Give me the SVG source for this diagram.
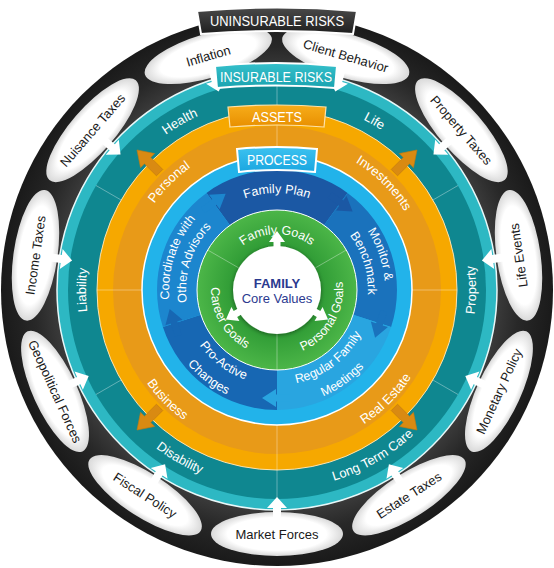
<svg xmlns="http://www.w3.org/2000/svg" width="554" height="568" viewBox="0 0 554 568">
<style>
text{font-family:"Liberation Sans",Arial,sans-serif}
.wl{fill:#fff;font-size:13px}
.pl{fill:#fff;font-size:12.5px}
.gl{fill:#fff;font-size:12.5px}
.et{fill:#1a1a1a;font-size:13px;text-anchor:middle}
.ell{fill:url(#gEll)}
.div{stroke:#fff;stroke-opacity:.35;stroke-width:1}
.wa{fill:#fff}
.oa{fill:#d98a12;stroke:#c07a10;stroke-width:.6}
.ban{fill:#fff;font-size:14px;text-anchor:middle}
</style>
<defs>
<radialGradient id="gBlack" gradientUnits="userSpaceOnUse" cx="277" cy="290" r="276">
<stop offset="0.79" stop-color="#3c3c3c"/><stop offset="0.88" stop-color="#282828"/><stop offset="1" stop-color="#1a1a1a"/>
</radialGradient>
<radialGradient id="gEll" cx="50%" cy="50%" r="50%">
<stop offset="0.75" stop-color="#ffffff"/><stop offset="1" stop-color="#d9d9d9"/>
</radialGradient>
<radialGradient id="gGreen" gradientUnits="userSpaceOnUse" cx="277" cy="290" r="80">
<stop offset="0.55" stop-color="#2f9b35"/><stop offset="1" stop-color="#4cb648"/>
</radialGradient>
<linearGradient id="gBanBlack" x1="0" y1="0" x2="0" y2="1"><stop offset="0" stop-color="#4a4a4a"/><stop offset="1" stop-color="#1e1e1e"/></linearGradient>
<linearGradient id="gBanTeal" x1="0" y1="0" x2="0" y2="1"><stop offset="0" stop-color="#35c0cb"/><stop offset="1" stop-color="#1aa3b0"/></linearGradient>
<linearGradient id="gBanOr" x1="0" y1="0" x2="0" y2="1"><stop offset="0" stop-color="#f7ad1a"/><stop offset="1" stop-color="#e88f00"/></linearGradient>
<linearGradient id="gBanBlue" x1="0" y1="0" x2="0" y2="1"><stop offset="0" stop-color="#3cc2f0"/><stop offset="1" stop-color="#1aa6e0"/></linearGradient>
<filter id="sh" x="-30%" y="-30%" width="160%" height="160%">
<feGaussianBlur in="SourceAlpha" stdDeviation="2"/><feOffset dy="1"/>
<feComponentTransfer><feFuncA type="linear" slope="0.45"/></feComponentTransfer>
<feMerge><feMergeNode/><feMergeNode in="SourceGraphic"/></feMerge>
</filter>
<path id="pFamilyGoals" d="M234.1,254 A56,56 0 0 1 319.9,254"/>
<path id="pPersonalGoals" d="M288.5,355 A66,66 0 0 0 339,267.4"/>
<path id="pCareerGoals" d="M215,267.4 A66,66 0 0 0 265.5,355"/>
<path id="pFamilyPlan" d="M208.4,221.4 A97,97 0 0 1 345.6,221.4"/>
<path id="pMonitor" d="M324.3,192.9 A108,108 0 0 1 374.1,337.3"/>
<path id="pBench" d="M319.7,209.7 A91,91 0 0 1 357.3,332.7"/>
<path id="pRegular" d="M263.8,384.1 A95,95 0 0 0 371.1,303.2"/>
<path id="pMeetings" d="M258.9,404.6 A116,116 0 0 0 391.6,308.1"/>
<path id="pProActive" d="M182.9,303.2 A95,95 0 0 0 290.2,384.1"/>
<path id="pChanges" d="M161.9,304.1 A116,116 0 0 0 291.1,405.1"/>
<path id="pCoord" d="M180.8,339 A108,108 0 0 1 228,193.8"/>
<path id="pOther" d="M195.9,331.3 A91,91 0 0 1 235.7,208.9"/>
<path id="pPersonal" d="M127.6,276.9 A150,150 0 0 1 263.9,140.6"/>
<path id="pInvest" d="M290.1,140.6 A150,150 0 0 1 426.4,276.9"/>
<path id="pReal" d="M291,449.4 A160,160 0 0 0 436.4,304"/>
<path id="pBusiness" d="M117.6,304 A160,160 0 0 0 263,449.4"/>
<path id="pHealth" d="M97.5,224.7 A191,191 0 0 1 310.2,101.9"/>
<path id="pLife" d="M243.8,101.9 A191,191 0 0 1 456.5,224.7"/>
<path id="pLiability" d="M130.7,412.8 A191,191 0 0 1 130.7,167.2"/>
<path id="pProperty" d="M429.4,417.9 A199,199 0 0 0 429.4,162.1"/>
<path id="pLTC" d="M242.5,486 A199,199 0 0 0 464,358.1"/>
<path id="pDisability" d="M90,358.1 A199,199 0 0 0 311.5,486"/>
</defs>
<rect width="554" height="568" fill="#fff"/>

<g id="ring-uninsurable">
<circle cx="277" cy="290" r="276" fill="url(#gBlack)"/>
</g>

<g id="ring-insurable">
<circle cx="277" cy="290" r="220" fill="#2db8c3" stroke="#e8f8f9" stroke-width="1.5"/>
<circle cx="277" cy="290" r="209" fill="#0f8790"/>
<g class="div">
<line x1="121.1" y1="200" x2="96" y2="185.5"/>
<line x1="277" y1="110" x2="277" y2="81"/>
<line x1="432.9" y1="200" x2="458" y2="185.5"/>
<line x1="432.9" y1="380" x2="458" y2="394.5"/>
<line x1="277" y1="470" x2="277" y2="499"/>
<line x1="121.1" y1="380" x2="96" y2="394.5"/>
</g>
<text class="wl" font-size="13.5"><textPath href="#pHealth" startOffset="50%" text-anchor="middle">Health</textPath></text>
<text class="wl" font-size="13.5"><textPath href="#pLife" startOffset="50%" text-anchor="middle">Life</textPath></text>
<text class="wl" font-size="13.5"><textPath href="#pLiability" startOffset="50%" text-anchor="middle">Liability</textPath></text>
<text class="wl" font-size="13.5"><textPath href="#pProperty" startOffset="50%" text-anchor="middle">Property</textPath></text>
<text class="wl" font-size="13.5"><textPath href="#pLTC" startOffset="50%" text-anchor="middle">Long Term Care</textPath></text>
<text class="wl" font-size="13.5"><textPath href="#pDisability" startOffset="50%" text-anchor="middle">Disability</textPath></text>
</g>

<g id="ring-assets">
<circle cx="277" cy="290" r="180" fill="#f6a800" stroke="#fbe3b0" stroke-width="1"/>
<circle cx="277" cy="290" r="164" fill="#e89a18"/>
<g class="div">
<line x1="412" y1="290" x2="457" y2="290"/>
<line x1="277" y1="425" x2="277" y2="470"/>
<line x1="142" y1="290" x2="97" y2="290"/>
<line x1="277" y1="155" x2="277" y2="110"/>
</g>
<text class="wl"><textPath href="#pPersonal" startOffset="50%" text-anchor="middle">Personal</textPath></text>
<text class="wl"><textPath href="#pInvest" startOffset="50%" text-anchor="middle">Investments</textPath></text>
<text class="wl"><textPath href="#pReal" startOffset="50%" text-anchor="middle">Real Estate</textPath></text>
<text class="wl"><textPath href="#pBusiness" startOffset="50%" text-anchor="middle">Business</textPath></text>
</g>

<g id="ring-process">
<circle cx="277" cy="290" r="135" fill="#22b3ea" stroke="#ffffff" stroke-width="1.5"/>
<path id="seg-family-plan" d="M206.5,192.9 A120,120 0 0 1 347.5,192.9 L324,225.3 A80,80 0 0 0 230,225.3 Z" fill="#1b58a4"/>
<path id="seg-monitor" d="M347.5,192.9 A120,120 0 0 1 391.1,327.1 L353.1,314.7 A80,80 0 0 0 324,225.3 Z" fill="#1a72bc"/>
<path id="seg-regular" d="M391.1,327.1 A120,120 0 0 1 277,410 L277,370 A80,80 0 0 0 353.1,314.7 Z" fill="#29a5e0"/>
<path id="seg-proactive" d="M277,410 A120,120 0 0 1 162.9,327.1 L200.9,314.7 A80,80 0 0 0 277,370 Z" fill="#1767b3"/>
<path id="seg-coordinate" d="M162.9,327.1 A120,120 0 0 1 206.5,192.9 L230,225.3 A80,80 0 0 0 200.9,314.7 Z" fill="#1c86ce"/>
<text class="pl"><textPath href="#pFamilyPlan" startOffset="50%" text-anchor="middle">Family Plan</textPath></text>
<text class="pl"><textPath href="#pMonitor" startOffset="50%" text-anchor="middle">Monitor &amp;</textPath></text>
<text class="pl"><textPath href="#pBench" startOffset="50%" text-anchor="middle">Benchmark</textPath></text>
<text class="pl"><textPath href="#pRegular" startOffset="50%" text-anchor="middle">Regular Family</textPath></text>
<text class="pl"><textPath href="#pMeetings" startOffset="50%" text-anchor="middle">Meetings</textPath></text>
<text class="pl"><textPath href="#pProActive" startOffset="50%" text-anchor="middle">Pro-Active</textPath></text>
<text class="pl"><textPath href="#pChanges" startOffset="50%" text-anchor="middle">Changes</textPath></text>
<text class="pl"><textPath href="#pCoord" startOffset="50%" text-anchor="middle">Coordinate with</textPath></text>
<text class="pl"><textPath href="#pOther" startOffset="50%" text-anchor="middle">Other Advisors</textPath></text>
</g>

<g id="ring-goals">
<circle cx="277" cy="290" r="80" fill="url(#gGreen)" stroke="#ffffff" stroke-width="1"/>
<g class="div">
<line x1="238.9" y1="268" x2="207.7" y2="250"/>
<line x1="315.1" y1="268" x2="346.3" y2="250"/>
<line x1="277" y1="334" x2="277" y2="370"/>
</g>
<text class="gl"><textPath href="#pFamilyGoals" startOffset="50%" text-anchor="middle">Family Goals</textPath></text>
<text class="gl"><textPath href="#pPersonalGoals" startOffset="50%" text-anchor="middle">Personal Goals</textPath></text>
<text class="gl"><textPath href="#pCareerGoals" startOffset="50%" text-anchor="middle">Career Goals</textPath></text>
</g>

<g id="core">
<circle cx="277" cy="290" r="44" fill="#fff" filter="url(#sh)"/>
<text x="277" y="288" text-anchor="middle" font-size="13" font-weight="bold" fill="#2b3a8f">FAMILY</text>
<text x="277" y="303" text-anchor="middle" font-size="13" fill="#2b3a8f">Core Values</text>
</g>

<g id="risk-nodes">
<g id="n-market-forces"><ellipse class="ell" cx="277" cy="534" rx="66" ry="22"/><text class="et" x="277" y="538.6">Market Forces</text></g>
<g id="n-estate-taxes" transform="rotate(-32.73 277 290)"><ellipse class="ell" cx="277" cy="534" rx="66" ry="22"/><text class="et" x="277" y="538.6">Estate Taxes</text></g>
<g id="n-monetary-policy" transform="rotate(-65.45 277 290)"><ellipse class="ell" cx="277" cy="534" rx="66" ry="22"/><text class="et" x="277" y="538.6">Monetary Policy</text></g>
<g id="n-life-events" transform="rotate(-98.18 277 290)"><ellipse class="ell" cx="277" cy="534" rx="66" ry="22"/><text class="et" x="277" y="538.6">Life Events</text></g>
<g id="n-property-taxes" transform="rotate(-130.91 277 290)"><ellipse class="ell" cx="277" cy="534" rx="66" ry="22"/><text class="et" x="277" y="538.6" transform="rotate(180 277 534)">Property Taxes</text></g>
<g id="n-client-behavior" transform="rotate(-163.64 277 290)"><ellipse class="ell" cx="277" cy="534" rx="66" ry="22"/><text class="et" x="277" y="538.6" transform="rotate(180 277 534)">Client Behavior</text></g>
<g id="n-inflation" transform="rotate(-196.36 277 290)"><ellipse class="ell" cx="277" cy="534" rx="66" ry="22"/><text class="et" x="277" y="538.6" transform="rotate(180 277 534)">Inflation</text></g>
<g id="n-nuisance-taxes" transform="rotate(-229.09 277 290)"><ellipse class="ell" cx="277" cy="534" rx="66" ry="22"/><text class="et" x="277" y="538.6" transform="rotate(180 277 534)">Nuisance Taxes</text></g>
<g id="n-income-taxes" transform="rotate(-261.82 277 290)"><ellipse class="ell" cx="277" cy="534" rx="66" ry="22"/><text class="et" x="277" y="538.6" transform="rotate(180 277 534)">Income Taxes</text></g>
<g id="n-geopolitical-forces" transform="rotate(65.45 277 290)"><ellipse class="ell" cx="277" cy="534" rx="66" ry="22"/><text class="et" x="277" y="538.6">Geopolitical Forces</text></g>
<g id="n-fiscal-policy" transform="rotate(32.73 277 290)"><ellipse class="ell" cx="277" cy="534" rx="66" ry="22"/><text class="et" x="277" y="538.6">Fiscal Policy</text></g>
</g>

<g id="connectors">
<g class="wa">
<polygon points="277,497 287,508 281,508 281,518 273,518 273,508 267,508"/>
<polygon points="277,497 287,508 281,508 281,518 273,518 273,508 267,508" transform="rotate(-32.73 277 290)"/>
<polygon points="277,497 287,508 281,508 281,518 273,518 273,508 267,508" transform="rotate(-65.45 277 290)"/>
<polygon points="277,497 287,508 281,508 281,518 273,518 273,508 267,508" transform="rotate(-98.18 277 290)"/>
<polygon points="277,497 287,508 281,508 281,518 273,518 273,508 267,508" transform="rotate(-130.91 277 290)"/>
<polygon points="277,497 287,508 281,508 281,518 273,518 273,508 267,508" transform="rotate(-163.64 277 290)"/>
<polygon points="277,497 287,508 281,508 281,518 273,518 273,508 267,508" transform="rotate(-196.36 277 290)"/>
<polygon points="277,497 287,508 281,508 281,518 273,518 273,508 267,508" transform="rotate(-229.09 277 290)"/>
<polygon points="277,497 287,508 281,508 281,518 273,518 273,508 267,508" transform="rotate(-261.82 277 290)"/>
<polygon points="277,497 287,508 281,508 281,518 273,518 273,508 267,508" transform="rotate(65.45 277 290)"/>
<polygon points="277,497 287,508 281,508 281,518 273,518 273,508 267,508" transform="rotate(32.73 277 290)"/>
</g>
<g class="oa">
<polygon points="277,92 287,107 281.5,107 281.5,124 272.5,124 272.5,107 267,107" transform="rotate(-45 277 290)"/>
<polygon points="277,92 287,107 281.5,107 281.5,124 272.5,124 272.5,107 267,107" transform="rotate(45 277 290)"/>
<polygon points="277,92 287,107 281.5,107 281.5,124 272.5,124 272.5,107 267,107" transform="rotate(135 277 290)"/>
<polygon points="277,92 287,107 281.5,107 281.5,124 272.5,124 272.5,107 267,107" transform="rotate(225 277 290)"/>
</g>
<g>
<polygon points="264,178.5 278,178.5 278,173 292,182 278,191 278,185.5 264,185.5" fill="#1b58a4" transform="rotate(36 277 290)"/>
<polygon points="264,178.5 278,178.5 278,173 292,182 278,191 278,185.5 264,185.5" fill="#1a72bc" transform="rotate(108 277 290)"/>
<polygon points="264,178.5 278,178.5 278,173 292,182 278,191 278,185.5 264,185.5" fill="#29a5e0" transform="rotate(180 277 290)"/>
<polygon points="264,178.5 278,178.5 278,173 292,182 278,191 278,185.5 264,185.5" fill="#1767b3" transform="rotate(252 277 290)"/>
<polygon points="264,178.5 278,178.5 278,173 292,182 278,191 278,185.5 264,185.5" fill="#1c86ce" transform="rotate(324 277 290)"/>
</g>
<g class="wa">
<polygon points="277,231 285,242 280.5,242 280.5,251 273.5,251 273.5,242 269,242"/>
<polygon points="277,231 285,242 280.5,242 280.5,251 273.5,251 273.5,242 269,242" transform="rotate(120 277 290)"/>
<polygon points="277,231 285,242 280.5,242 280.5,251 273.5,251 273.5,242 269,242" transform="rotate(240 277 290)"/>
</g>
</g>

<g id="label-uninsurable">
<path d="M197,11 Q277,4 357,11 L353,34 Q277,28 201,34 Z" fill="url(#gBanBlack)" stroke="#fff" stroke-width="2"/>
<text class="ban" x="277" y="26" textLength="134" lengthAdjust="spacingAndGlyphs">UNINSURABLE RISKS</text>
</g>
<g id="label-insurable">
<path d="M215,66 Q276,60 337,66 L335,88 Q276,83 217,88 Z" fill="url(#gBanTeal)" stroke="#fff" stroke-width="2"/>
<text class="ban" x="276" y="82" textLength="112" lengthAdjust="spacingAndGlyphs">INSURABLE RISKS</text>
</g>
<g id="label-assets">
<path d="M228,107 Q277,103 326,107 L324,127 Q277,123 230,127 Z" fill="url(#gBanOr)" stroke="#fde2a8" stroke-width="1.2"/>
<text class="ban" x="277" y="121.5" textLength="50" lengthAdjust="spacingAndGlyphs">ASSETS</text>
</g>
<g id="label-process">
<path d="M237,149 Q277,145 317,149 L315,172 Q277,168 239,172 Z" fill="url(#gBanBlue)" stroke="#fff" stroke-width="2"/>
<text class="ban" x="277" y="165" textLength="60" lengthAdjust="spacingAndGlyphs">PROCESS</text>
</g>
</svg>
